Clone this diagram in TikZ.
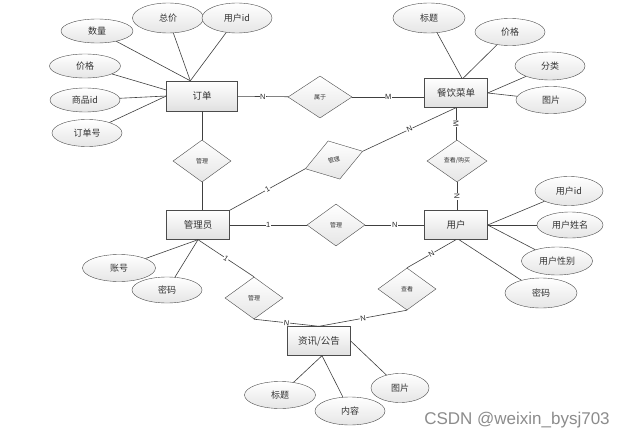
\documentclass[tikz,border=0pt]{standalone}
\usepackage{fontspec}
\setmainfont{Liberation Sans}
\newfontfamily\cjk{Noto Sans CJK SC}
\usetikzlibrary{shapes.geometric}
\begin{document}
\begin{tikzpicture}[x=1pt,y=-1pt,
  ent/.style={draw=black!70, top color=white, bottom color=black!12, minimum width=63pt, minimum height=29pt, inner sep=0pt, text=black!80, font=\cjk\fontsize{9.5}{10}\selectfont},
  attr/.style={ellipse, draw=black!70, top color=white, bottom color=black!10, minimum width=70pt, minimum height=27pt, inner sep=0pt, text=black!80, font=\cjk\fontsize{9}{10}\selectfont},
  rel/.style={diamond, draw=black!70, top color=white, bottom color=black!10, minimum width=58pt, minimum height=42pt, inner sep=0pt, text=black!80, font=\cjk\fontsize{6}{7}\selectfont},
  conn/.style={draw=black!75, line width=0.6pt},
  card/.style={fill=white, inner sep=0.6pt, text=black!85, font=\fontsize{7.5}{8}\selectfont}]
\useasboundingbox (0,0) rectangle (635,439);
\fill[white] (0,0) rectangle (635,439);
% entities
\node[ent, minimum width=71pt, minimum height=30pt] (dd) at (202,96) {订单};
\node[ent] (cd) at (456,93) {餐饮菜单};
\node[ent] (gly) at (198,225) {管理员};
\node[ent] (yh) at (456,225) {用户};
\node[ent] (zx) at (319,341) {资讯/公告};
% relations
\node[rel, minimum width=64pt] (sy) at (320,97) {属于};
\node[rel] (gla) at (202,161) {管理};
\node[rel, rotate=17, minimum width=60pt, minimum height=40pt] (glb) at (334,160) {管理};
\node[rel, minimum width=60pt] (ckgm) at (457,161) {查看/购买};
\node[rel] (glc) at (336,225) {管理};
\node[rel] (gld) at (254,298) {管理};
\node[rel] (ck) at (407,289) {查看};
% attributes of 订单
\node[attr, minimum width=72pt, minimum height=24pt] (sl) at (97,31) {数量};
\node[attr, minimum width=71pt, minimum height=30pt] (zj) at (168,18) {总价};
\node[attr, minimum width=70pt, minimum height=30pt] (yhida) at (237,18) {用户id};
\node[attr, minimum width=71pt, minimum height=24pt] (jga) at (85,66) {价格};
\node[attr, minimum width=70pt, minimum height=24pt] (spid) at (85,100) {商品id};
\node[attr, minimum width=70pt, minimum height=27pt] (ddh) at (87,133) {订单号};
% attributes of 餐饮菜单
\node[attr, minimum width=72pt, minimum height=30pt] (bta) at (429,18) {标题};
\node[attr, minimum width=70pt, minimum height=27pt] (jgb) at (510,32) {价格};
\node[attr, minimum width=70pt, minimum height=28pt] (fl) at (550,66) {分类};
\node[attr, minimum width=70pt, minimum height=27pt] (tpa) at (551,100) {图片};
% attributes of 用户
\node[attr, minimum width=68pt, minimum height=29pt] (yhidb) at (569,191) {用户id};
\node[attr, minimum width=66pt, minimum height=26pt] (yhxm) at (570,225) {用户姓名};
\node[attr, minimum width=71pt, minimum height=28pt] (yhxb) at (557,261) {用户性别};
\node[attr, minimum width=72pt, minimum height=30pt] (mma) at (541,293) {密码};
% attributes of 管理员
\node[attr, minimum width=73pt, minimum height=27pt] (zh) at (119,268) {账号};
\node[attr, minimum width=70pt, minimum height=26pt] (mmb) at (167,290) {密码};
% attributes of 资讯/公告
\node[attr, minimum width=71pt, minimum height=27pt] (btb) at (280,395) {标题};
\node[attr, minimum width=70pt, minimum height=28pt] (nr) at (350,411) {内容};
\node[attr, minimum width=58pt, minimum height=29pt] (tpb) at (400,388) {图片};
% relationship connectors
\draw[conn] (dd) -- node[card]{N} (sy);
\draw[conn] (sy.east) -- node[card]{M} (sy.east -| cd.west);
\draw[conn] (dd.south) -- (gla.north);
\draw[conn] (gla.south) -- (gla.south |- gly.north);
\draw[conn] (gly.north east) -- node[card, sloped]{1} (glb.west);
\draw[conn] (glb.east) -- node[card, sloped]{N} (cd.south);
\draw[conn] (cd.south) -- node[card, rotate=-90]{M} (cd.south |- ckgm.north);
\draw[conn] (ckgm.south) -- node[card, rotate=-90]{N} (ckgm.south |- yh.north);
\draw[conn] (gly) -- node[card]{1} (glc);
\draw[conn] (glc) -- node[card]{N} (yh);
\draw[conn] (gly.south) -- node[card, sloped]{1} (gld.north);
\draw[conn] (gld.south) -- node[card, sloped]{N} (zx.north);
\draw[conn] (yh.south) -- node[card, sloped]{N} (ck.north);
\draw[conn] (ck.south) -- node[card, sloped]{N} (zx.north);
% attribute connectors
\draw[conn] (sl) -- ([xshift=24pt]dd.north west);
\draw[conn] (zj) -- ([xshift=24pt]dd.north west);
\draw[conn] (yhida) -- ([xshift=24pt]dd.north west);
\draw[conn] (jga) -- ([yshift=6pt]dd.west);
\draw[conn] (spid) -- (dd.west);
\draw[conn] (ddh) -- (dd.west);
\draw[conn] (bta) -- ([xshift=6pt]cd.north);
\draw[conn] (jgb) -- ([xshift=7pt]cd.north);
\draw[conn] (fl) -- (cd.east);
\draw[conn] (tpa) -- (cd.east);
\draw[conn] (yhidb) -- (yh.east);
\draw[conn] (yhxm) -- (yh.east);
\draw[conn] (yhxb) -- (yh.east);
\draw[conn] (mma) -- ([xshift=3pt]yh.south);
\draw[conn] (zh) -- (gly.south);
\draw[conn] (mmb) -- (gly.south);
\draw[conn] (btb) -- ([xshift=3pt]zx.south);
\draw[conn] (nr) -- ([xshift=3pt]zx.south);
\draw[conn] (tpb) -- (zx.east);
% watermark
\node[text=black!45, font=\fontsize{17}{20}\selectfont] (wm) at (517,420) {CSDN @weixin\_bysj703};
\end{tikzpicture}
\end{document}
